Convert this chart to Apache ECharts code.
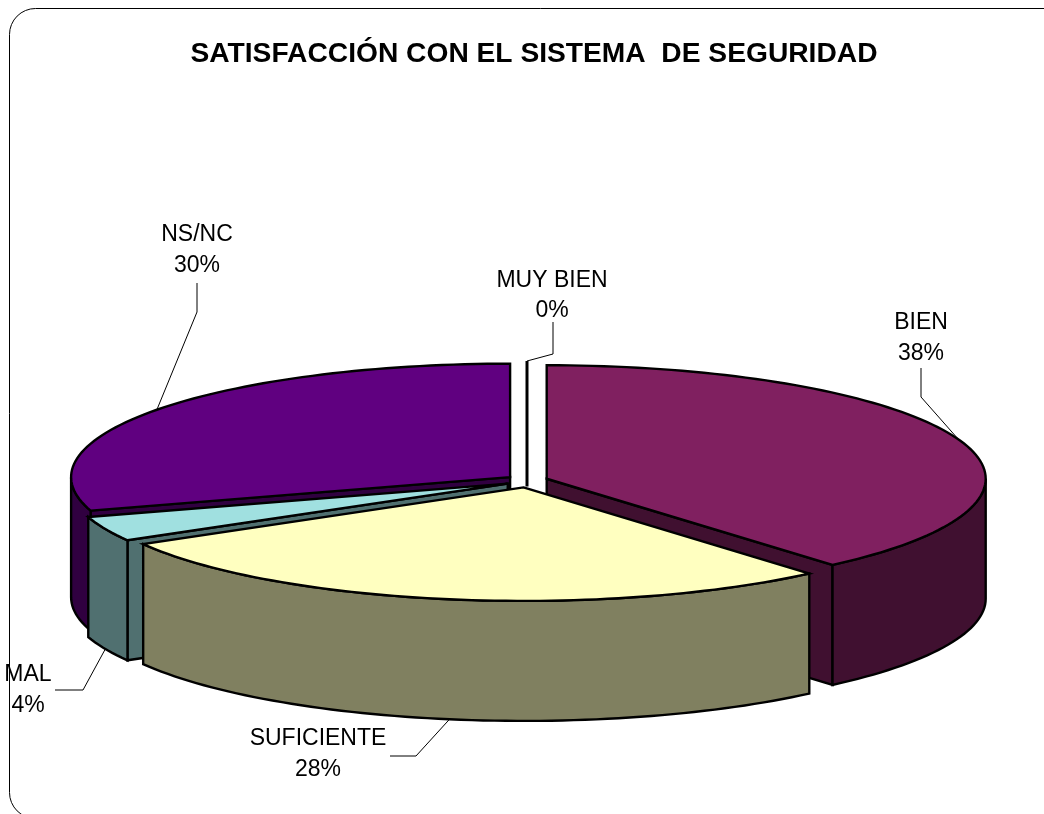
<!DOCTYPE html>
<html>
<head>
<meta charset="utf-8">
<style>html,body{margin:0;padding:0;background:#fff}#c{width:1044px;height:814px}</style>
<script src="https://cdn.jsdelivr.net/npm/echarts@6/dist/echarts.min.js"></script>
</head>
<body>
<div id="c"></div>
<script>
// Data
const categories = ['MUY BIEN', 'BIEN', 'SUFICIENTE', 'MAL', 'NS/NC'];
const values = [0, 38.4, 28, 3.6, 30];
const topColors = ['#ffffff', '#802060', '#ffffc0', '#a0e0e0', '#600080'];
const wallColors = ['#ffffff', '#401030', '#808060', '#507070', '#300040'];
const chartTitle = 'SATISFACCIÓN CON EL SISTEMA  DE SEGURIDAD';

// Layout of the 3D pie (persp: perspective shift of angles towards the viewer, in degrees)
const view = { cx: 527, cy: 481, rx: 439, ry: 113.5, depth: 120, ex: 21, ey: 6.5, persp: 1.3 };
// Leader line elbow [x1,y1,x2,y2] and label centre [x, y]
const elbows = [[553, 322, 553, 354], [921, 368, 921, 397], [390, 756, 416, 756], [55, 690, 83, 690], [197, 283, 197, 312]];
const labelPos = [[552, 295.5], [921, 338], [318, 754], [28, 690], [197, 250]];

const total = values.reduce((a, b) => a + b, 0);
const rad = d => d * Math.PI / 180;
const warp = d => d + view.persp * (1 - Math.cos(rad(d))) / 2;
let acc = 0;
const rows = values.map((v, i) => {
  const a0 = warp(acc / total * 360);
  acc += v;
  const a1 = warp(acc / total * 360);
  return [i, v, a0, a1, Math.cos(rad((a0 + a1) / 2))];
}).sort((p, q) => q[4] - p[4]);

function rim(c, deg, h) {
  return [c[0] + view.rx * Math.sin(rad(deg)), c[1] - view.ry * Math.cos(rad(deg)) + (h || 0)];
}
function arc(c, a, b, h) {
  const pts = [];
  const n = Math.max(1, Math.ceil(Math.abs(b - a) / 1.5));
  for (let k = 0; k <= n; k++) pts.push(rim(c, a + (b - a) * k / n, h));
  return pts;
}
const edge = { stroke: '#000', lineWidth: 2.4, lineJoin: 'miter' };
function poly(points, fill) {
  return { type: 'polygon', shape: { points }, style: Object.assign({ fill }, edge) };
}

function renderItem(params, api) {
  const i = api.value(0), a0 = api.value(2), a1 = api.value(3);
  const mid = (a0 + a1) / 2;
  const c = [view.cx + view.ex * Math.sin(rad(mid)), view.cy - view.ey * Math.cos(rad(mid))];
  const d = view.depth;
  const children = [];
  const below = p => [p[0], p[1] + d];
  if (a1 > a0) {
    // radial walls facing the viewer
    if (Math.sin(rad(a0)) < -1e-6) {
      const p = rim(c, a0);
      children.push(poly([c, p, below(p), below(c)], wallColors[i]));
    }
    if (Math.sin(rad(a1)) > 1e-6) {
      const p = rim(c, a1);
      children.push(poly([c, p, below(p), below(c)], wallColors[i]));
    }
    // outer wall (front half only)
    const w0 = Math.max(a0, 90), w1 = Math.min(a1, 270);
    if (w1 > w0) {
      children.push(poly(arc(c, w0, w1).concat(arc(c, w1, w0, d)), wallColors[i]));
    }
    // top face
    children.push(poly([c].concat(arc(c, a0, a1)), topColors[i]));
  } else {
    children.push({ type: 'line', shape: { x1: c[0], y1: c[1] - view.ry, x2: c[0], y2: c[1] + 12 }, style: { stroke: '#000', lineWidth: 3 } });
  }
  // leader line and label
  const front = Math.cos(rad(mid)) < 0;
  const end = rim(c, mid, front ? d : 0);
  const e = elbows[i];
  children.push({ type: 'polyline', shape: { points: [[e[0], e[1]], [e[2], e[3]], end] }, style: { stroke: '#000', lineWidth: 1, fill: null }, z2: 50 });
  children.push({
    type: 'text', x: labelPos[i][0], y: labelPos[i][1], z2: 60,
    style: {
      text: categories[i] + '\n' + Math.round(api.value(1)) + '%',
      font: '23px "Liberation Sans"', fill: '#000', align: 'center', verticalAlign: 'middle', lineHeight: 30.5
    }
  });
  return { type: 'group', children };
}

const chart = echarts.init(document.getElementById('c'), null, { renderer: 'canvas' });
chart.setOption({
  animation: false,
  backgroundColor: '#fff',
  title: {
    text: chartTitle, left: 534, top: 35, textAlign: 'center',
    textStyle: { fontFamily: 'Liberation Sans', fontWeight: 'bold', fontSize: 28.2, color: '#000' }
  },
  graphic: [{
    type: 'rect', silent: true, z: -1,
    shape: { x: 9.5, y: 8.5, width: 1100, height: 810, r: 26 },
    style: { fill: null, stroke: '#000', lineWidth: 1 }
  }],
  series: [{
    type: 'custom',
    coordinateSystem: 'none',
    clip: false,
    renderItem,
    encode: { itemName: 0 },
    data: rows
  }]
});
chart.setOption({ title: { left: 529 } });
</script>
</body>
</html>
